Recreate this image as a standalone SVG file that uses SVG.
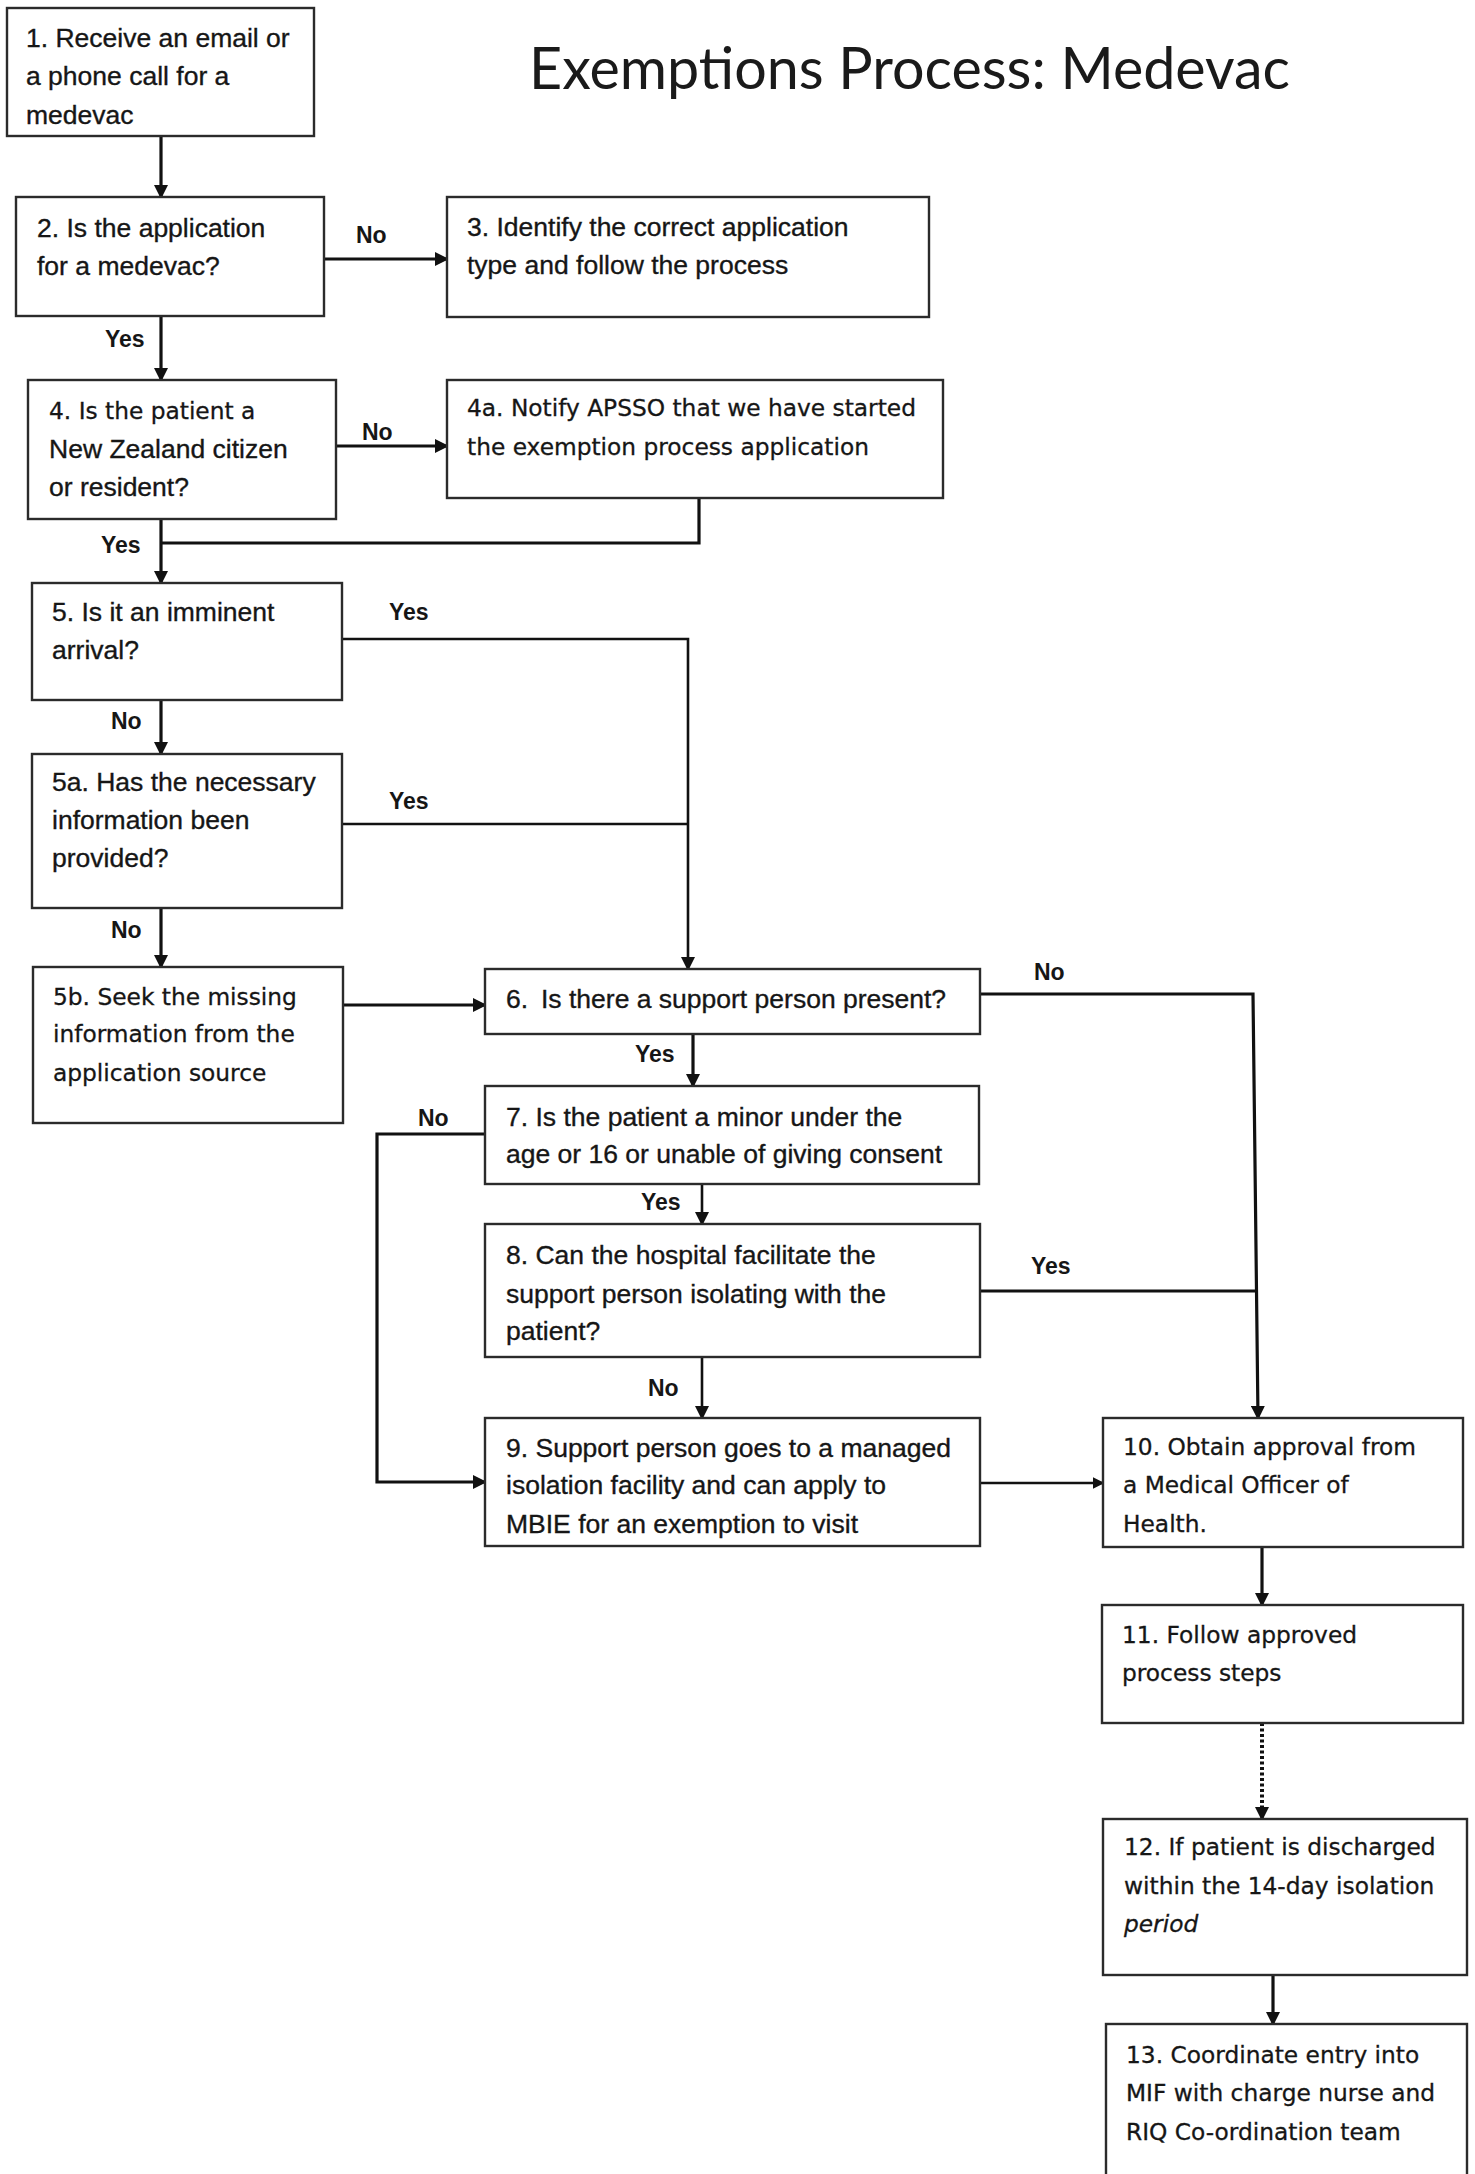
<svg xmlns="http://www.w3.org/2000/svg" width="1475" height="2174" viewBox="0 0 1475 2174">
<defs>
<style>
.box{fill:#fff;stroke:#2b2b2b;stroke-width:2.4}
.t{font-family:"Liberation Sans",Arial,sans-serif;font-size:26.5px;fill:#161616;stroke:#161616;stroke-width:0.35}
.v{font-family:"DejaVu Sans",Verdana,sans-serif;font-size:23.3px;fill:#161616;stroke:#161616;stroke-width:0.3}
.lbl{font-family:"Liberation Sans",Arial,sans-serif;font-size:23px;font-weight:bold;fill:#161616}
.title{font-family:Lato,"Liberation Sans",sans-serif;font-weight:400;font-size:58px;fill:#1a1a1a}
.c{fill:none;stroke:#111;stroke-width:3.2}
.c2{fill:none;stroke:#111;stroke-width:2.6}
.dot{fill:none;stroke:#111;stroke-width:4;stroke-dasharray:3 2.5}
</style>
<marker id="ah" viewBox="0 0 14 14" markerWidth="14" markerHeight="14" refX="12" refY="7" orient="auto" markerUnits="userSpaceOnUse"><path d="M0,0 L14,7 L0,14 z" fill="#111"/></marker>
<marker id="ahs" viewBox="0 0 12 12" markerWidth="12" markerHeight="12" refX="10.5" refY="6" orient="auto" markerUnits="userSpaceOnUse"><path d="M0,0 L12,6 L0,12 z" fill="#111"/></marker>
</defs>
<rect x="0" y="0" width="1475" height="2174" fill="#fff"/>
<text class="title" x="529" y="89" textLength="761" lengthAdjust="spacingAndGlyphs">Exemptions Process: Medevac</text>

<g id="connectors">
<path class="c" d="M161,136 V197" marker-end="url(#ah)"/>
<path class="c" d="M324,259 H447" marker-end="url(#ah)"/>
<path class="c" d="M161,316 V380" marker-end="url(#ah)"/>
<path class="c" d="M336,446 H447" marker-end="url(#ah)"/>
<path class="c" d="M699,498 V543 H161"/>
<path class="c" d="M161,519 V583" marker-end="url(#ah)"/>
<path class="c2" d="M342,639 H688 V969" marker-end="url(#ah)"/>
<path class="c2" d="M342,824 H688"/>
<path class="c" d="M161,700 V754" marker-end="url(#ah)"/>
<path class="c" d="M161,908 V967" marker-end="url(#ah)"/>
<path class="c" d="M343,1005 H485" marker-end="url(#ah)"/>
<path class="c" d="M693,1034 V1086" marker-end="url(#ah)"/>
<path class="c" d="M980,994 H1253 L1258,1418" marker-end="url(#ah)"/>
<path class="c" d="M980,1291 H1256"/>
<path class="c" d="M485,1134 H377 V1482 H485" marker-end="url(#ah)"/>
<path class="c2" d="M702,1184 V1224" marker-end="url(#ah)"/>
<path class="c2" d="M702,1357 V1418" marker-end="url(#ah)"/>
<path class="c2" d="M980,1483 H1103" marker-end="url(#ahs)"/>
<path class="c" d="M1262,1547 V1605" marker-end="url(#ah)"/>
<path class="dot" d="M1262,1723 V1807"/>
<path class="c" d="M1262,1806 V1819" marker-end="url(#ah)" stroke-width="0.1"/>
<path class="c" d="M1273,1975 V2024" marker-end="url(#ah)"/>
<text class="lbl" x="356" y="243">No</text>
<text class="lbl" x="105" y="347">Yes</text>
<text class="lbl" x="362" y="440">No</text>
<text class="lbl" x="101" y="553">Yes</text>
<text class="lbl" x="389" y="620">Yes</text>
<text class="lbl" x="111" y="729">No</text>
<text class="lbl" x="389" y="809">Yes</text>
<text class="lbl" x="111" y="938">No</text>
<text class="lbl" x="1034" y="980">No</text>
<text class="lbl" x="635" y="1062">Yes</text>
<text class="lbl" x="418" y="1126">No</text>
<text class="lbl" x="641" y="1210">Yes</text>
<text class="lbl" x="1031" y="1274">Yes</text>
<text class="lbl" x="648" y="1396">No</text>
</g>

<g id="n1"><rect class="box" x="7" y="8" width="307" height="128"/>
<text class="t" x="26" y="47">1. Receive an email or</text>
<text class="t" x="26" y="85">a phone call for a</text>
<text class="t" x="26" y="124">medevac</text></g>

<g id="n2"><rect class="box" x="16" y="197" width="308" height="119"/>
<text class="t" x="37" y="237">2. Is the application</text>
<text class="t" x="37" y="275">for a medevac?</text></g>

<g id="n3"><rect class="box" x="447" y="197" width="482" height="120"/>
<text class="t" x="467" y="236">3. Identify the correct application</text>
<text class="t" x="467" y="274">type and follow the process</text></g>

<g id="n4"><rect class="box" x="28" y="380" width="308" height="139"/>
<text class="v" x="49" y="419">4. Is the patient a</text>
<text class="t" x="49" y="458">New Zealand citizen</text>
<text class="t" x="49" y="496">or resident?</text></g>

<g id="n4a"><rect class="box" x="447" y="380" width="496" height="118"/>
<text class="v" x="467" y="416">4a. Notify APSSO that we have started</text>
<text class="v" x="467" y="455">the exemption process application</text></g>

<g id="n5"><rect class="box" x="32" y="583" width="310" height="117"/>
<text class="t" x="52" y="621">5. Is it an imminent</text>
<text class="t" x="52" y="659">arrival?</text></g>

<g id="n5a"><rect class="box" x="32" y="754" width="310" height="154"/>
<text class="t" x="52" y="791">5a. Has the necessary</text>
<text class="t" x="52" y="829">information been</text>
<text class="t" x="52" y="867">provided?</text></g>

<g id="n5b"><rect class="box" x="33" y="967" width="310" height="156"/>
<text class="v" x="53" y="1005">5b. Seek the missing</text>
<text class="v" x="53" y="1042">information from the</text>
<text class="v" x="53" y="1081">application source</text></g>

<g id="n6"><rect class="box" x="485" y="969" width="495" height="65"/>
<text class="t" x="506" y="1008">6.</text>
<text class="t" x="541" y="1008">Is there a support person present?</text></g>

<g id="n7"><rect class="box" x="485" y="1086" width="494" height="98"/>
<text class="t" x="506" y="1126">7. Is the patient a minor under the</text>
<text class="t" x="506" y="1163">age or 16 or unable of giving consent</text></g>

<g id="n8"><rect class="box" x="485" y="1224" width="495" height="133"/>
<text class="t" x="506" y="1264">8. Can the hospital facilitate the</text>
<text class="t" x="506" y="1303">support person isolating with the</text>
<text class="t" x="506" y="1340">patient?</text></g>

<g id="n9"><rect class="box" x="485" y="1418" width="495" height="128"/>
<text class="t" x="506" y="1457">9. Support person goes to a managed</text>
<text class="t" x="506" y="1494">isolation facility and can apply to</text>
<text class="t" x="506" y="1533">MBIE for an exemption to visit</text></g>

<g id="n10"><rect class="box" x="1103" y="1418" width="360" height="129"/>
<text class="v" x="1123" y="1455">10. Obtain approval from</text>
<text class="v" x="1123" y="1493">a Medical Officer of</text>
<text class="v" x="1123" y="1532">Health.</text></g>

<g id="n11"><rect class="box" x="1102" y="1605" width="361" height="118"/>
<text class="v" x="1122" y="1643">11. Follow approved</text>
<text class="v" x="1122" y="1681">process steps</text></g>

<g id="n12"><rect class="box" x="1103" y="1819" width="364" height="156"/>
<text class="v" x="1124" y="1855">12. If patient is discharged</text>
<text class="v" x="1124" y="1894">within the 14-day isolation</text>
<text class="v" x="1124" y="1932" font-style="italic">period</text></g>

<g id="n13"><rect class="box" x="1106" y="2024" width="361" height="170"/>
<text class="v" x="1126" y="2063">13. Coordinate entry into</text>
<text class="v" x="1126" y="2101">MIF with charge nurse and</text>
<text class="v" x="1126" y="2140">RIQ Co-ordination team</text></g>
</svg>
